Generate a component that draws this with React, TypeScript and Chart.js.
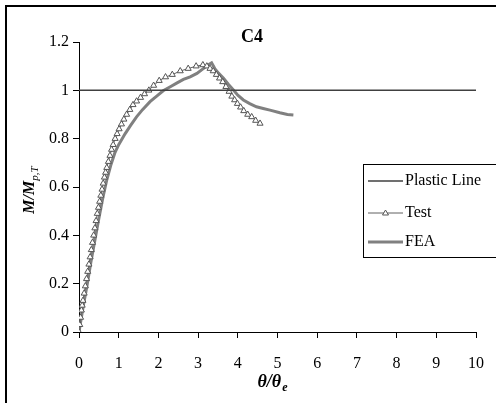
import React, { useEffect, useRef } from "react";
import { Chart, registerables } from "chart.js";

Chart.register(...registerables);

const plasticX = [0, 10];
const plasticY = [1, 1];

const testX = [0, 0.02, 0.04, 0.06, 0.08, 0.1, 0.13, 0.16, 0.19, 0.22, 0.25, 0.28, 0.31, 0.34, 0.37, 0.4, 0.43, 0.46, 0.49, 0.52, 0.55, 0.58, 0.61, 0.64, 0.67, 0.7, 0.74, 0.78, 0.82, 0.86, 0.91, 0.96, 1.01, 1.07, 1.13, 1.2, 1.28, 1.36, 1.45, 1.55, 1.65, 1.76, 1.88, 2.02, 2.18, 2.35, 2.55, 2.75, 2.95, 3.12, 3.22, 3.3, 3.38, 3.46, 3.54, 3.62, 3.7, 3.78, 3.85, 3.92, 3.99, 4.07, 4.15, 4.25, 4.35, 4.45, 4.56];
const testY = [0, 0.03, 0.06, 0.09, 0.11, 0.13, 0.16, 0.19, 0.22, 0.25, 0.28, 0.31, 0.34, 0.37, 0.4, 0.43, 0.46, 0.49, 0.515, 0.54, 0.565, 0.59, 0.615, 0.64, 0.66, 0.68, 0.705, 0.73, 0.755, 0.775, 0.8, 0.82, 0.84, 0.86, 0.88, 0.9, 0.92, 0.94, 0.955, 0.97, 0.985, 1.0, 1.02, 1.04, 1.055, 1.065, 1.08, 1.09, 1.1, 1.105, 1.1, 1.09, 1.08, 1.065, 1.05, 1.035, 1.015, 0.995, 0.975, 0.96, 0.945, 0.93, 0.915, 0.9, 0.89, 0.875, 0.863];

const feaX = [0, 0.1, 0.2, 0.3, 0.4, 0.5, 0.6, 0.7, 0.8, 0.9, 1.0, 1.16, 1.3, 1.45, 1.6, 1.79, 1.95, 2.12, 2.3, 2.46, 2.63, 2.8, 2.97, 3.13, 3.25, 3.34, 3.42, 3.52, 3.64, 3.76, 3.89, 4.0, 4.14, 4.3, 4.47, 4.64, 4.81, 5.06, 5.25, 5.4];
const feaY = [0, 0.1, 0.19, 0.29, 0.38, 0.47, 0.555, 0.63, 0.69, 0.74, 0.775, 0.82, 0.855, 0.89, 0.92, 0.953, 0.975, 0.998, 1.015, 1.03, 1.045, 1.056, 1.07, 1.09, 1.105, 1.114, 1.09, 1.07, 1.05, 1.025, 1.001, 0.98, 0.96, 0.945, 0.932, 0.925, 0.918, 0.907, 0.9, 0.898];

const seriesNames = ["Plastic Line", "Test", "FEA"];
const chartTitle = "C4";

const SERIF = '"Liberation Serif", "Times New Roman", serif';

const zip = (xs: number[], ys: number[]) => xs.map((x, i) => ({ x, y: ys[i] }));

const overlayPlugin = {
  id: "overlay",
  afterDraw(chart: any) {
    const ctx = chart.ctx as CanvasRenderingContext2D;
    ctx.save();
    ctx.fillStyle = "#000";
    // title
    ctx.font = `bold 18px ${SERIF}`;
    ctx.textAlign = "center";
    ctx.textBaseline = "middle";
    ctx.fillText(chartTitle, 252, 37);

    // x axis title
    ctx.font = `bold italic 18px ${SERIF}`;
    const main = "θ/θ";
    const mw = ctx.measureText(main).width;
    ctx.font = `bold italic 12px ${SERIF}`;
    const sw = ctx.measureText("e").width;
    const startX = 272 - (mw + sw) / 2;
    ctx.textAlign = "left";
    ctx.font = `bold italic 18px ${SERIF}`;
    ctx.fillText(main, startX, 382);
    ctx.font = `bold italic 12px ${SERIF}`;
    ctx.fillText("e", startX + mw + 1, 388);

    // y axis title
    ctx.save();
    ctx.translate(30, 190);
    ctx.rotate(-Math.PI / 2);
    ctx.font = `bold italic 16px ${SERIF}`;
    const ym = "M/M";
    const ymw = ctx.measureText(ym).width;
    ctx.font = `italic 11px ${SERIF}`;
    const ysw = ctx.measureText("p,T").width;
    const ys = -(ymw + ysw) / 2;
    ctx.textAlign = "left";
    ctx.font = `bold italic 16px ${SERIF}`;
    ctx.fillText(ym, ys, 0);
    ctx.font = `italic 11px ${SERIF}`;
    ctx.fillText("p,T", ys + ymw, 5);
    ctx.restore();

    // legend
    ctx.strokeStyle = "#000";
    ctx.lineWidth = 1;
    ctx.strokeRect(363.5, 164.5, 140, 93);
    const rows = [181, 213, 242];
    const ds = chart.data.datasets;
    rows.forEach((yy, i) => {
      const d = ds[i];
      ctx.strokeStyle = d.borderColor;
      ctx.lineWidth = d.borderWidth;
      ctx.beginPath();
      ctx.moveTo(368, yy);
      ctx.lineTo(403, yy);
      ctx.stroke();
      if (i === 1) {
        ctx.fillStyle = "#fff";
        ctx.strokeStyle = "#555";
        ctx.lineWidth = 1;
        ctx.beginPath();
        ctx.moveTo(385.5, yy - 3);
        ctx.lineTo(388.5, yy + 2);
        ctx.lineTo(382.5, yy + 2);
        ctx.closePath();
        ctx.fill();
        ctx.stroke();
      }
      ctx.fillStyle = "#000";
      ctx.font = `16px ${SERIF}`;
      ctx.textAlign = "left";
      ctx.textBaseline = "middle";
      ctx.fillText(seriesNames[i], 405, yy);
    });
    ctx.restore();
  },
};

export default function App() {
  const ref = useRef<HTMLCanvasElement>(null);
  useEffect(() => {
    if (!ref.current) return;
    const chart = new Chart(ref.current, {
      type: "scatter",
      data: {
        datasets: [
          {
            label: seriesNames[0],
            data: zip(plasticX, plasticY),
            showLine: true,
            borderColor: "#404040",
            borderWidth: 1.5,
            pointRadius: 0,
          },
          {
            label: seriesNames[1],
            data: zip(testX, testY),
            showLine: true,
            borderColor: "#606060",
            borderWidth: 1,
            pointStyle: "triangle",
            pointRadius: 3.5,
            pointBorderColor: "#555555",
            pointBackgroundColor: "#ffffff",
            pointBorderWidth: 1,
          },
          {
            label: seriesNames[2],
            data: zip(feaX, feaY),
            showLine: true,
            borderColor: "#808080",
            borderWidth: 3,
            pointRadius: 0,
          },
        ],
      },
      plugins: [overlayPlugin],
      options: {
        animation: false,
        responsive: false,
        layout: { padding: { left: 0, right: 20, top: 42, bottom: 0 } },
        plugins: {
          legend: { display: false },
          title: { display: false },
          tooltip: { enabled: false },
        },
        scales: {
          x: {
            type: "linear",
            min: 0,
            max: 10,
            afterFit: (s: any) => {
              s.height = 71;
              s.paddingRight = 0;
              s.paddingLeft = 0;
            },
            ticks: {
              stepSize: 1,
              color: "#000",
              padding: 16,
              maxRotation: 0,
              font: { family: SERIF, size: 16 },
            },
            grid: { display: true, drawOnChartArea: false, drawTicks: true, tickLength: 6, color: "#000" },
            border: { display: true, color: "#000", width: 1 },
          },
          y: {
            type: "linear",
            min: 0,
            max: 1.2,
            afterFit: (s: any) => {
              s.width = 79;
            },
            ticks: {
              stepSize: 0.2,
              color: "#000",
              padding: 4,
              font: { family: SERIF, size: 16 },
              callback: (v: any) => String(Math.round(Number(v) * 10) / 10),
            },
            grid: { display: true, drawOnChartArea: false, drawTicks: true, tickLength: 6, color: "#000" },
            border: { display: true, color: "#000", width: 1 },
          },
        },
      },
    });
    return () => chart.destroy();
  }, []);
  return (
    <div style={{ position: "absolute", left: 0, top: 0, width: 496, height: 403, overflow: "hidden", background: "#fff" }}>
      <canvas ref={ref} width={496} height={403} style={{ position: "absolute", left: 0, top: 0 }} />
      <div style={{ position: "absolute", left: 5, top: 5, width: 500, height: 410, border: "2px solid #000", boxSizing: "border-box", pointerEvents: "none" }} />
    </div>
  );
}
